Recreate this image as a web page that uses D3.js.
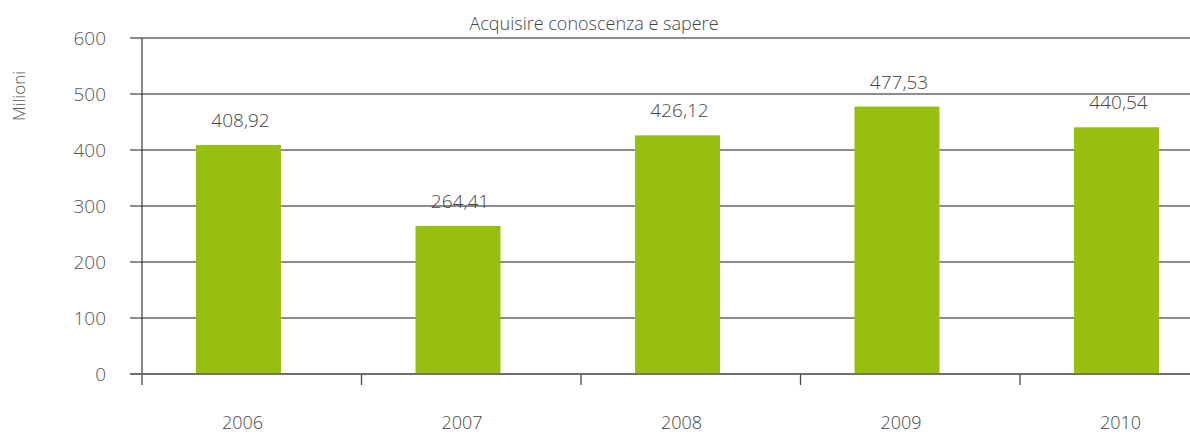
<!DOCTYPE html>
<html>
<head>
<meta charset="utf-8">
<script src="https://cdn.jsdelivr.net/npm/d3@7"></script>
<style>
  body { margin: 0; background: #fff; }
  text { font-family: "Open Sans", Lato, sans-serif; font-weight: 300; fill: #444; }
</style>
</head>
<body>
<div id="wrapper"></div>
<script>
// data
const years = ["2006", "2007", "2008", "2009", "2010"];
const values = [408.92, 264.41, 426.12, 477.53, 440.54];
const yTicks = [0, 100, 200, 300, 400, 500, 600];
const title = "Acquisire conoscenza e sapere";
const yTitle = "Milioni";

const dimension = { width: 1190, height: 436 };

const svg = d3.select("#wrapper").append("svg")
    .attr("width", dimension.width)
    .attr("height", dimension.height);

// scales (plot is cropped on the right like the original)
const xScaler = d3.scaleBand()
    .domain(years)
    .range([142, 1239.5]);

const yScaler = d3.scaleLinear()
    .domain([0, 600])
    .range([374, 38]);

// gridlines
svg.append("g")
    .selectAll("line")
    .data(yTicks)
    .join("line")
    .attr("x1", 130)
    .attr("x2", dimension.width)
    .attr("y1", d => yScaler(d))
    .attr("y2", d => yScaler(d))
    .attr("stroke", "#666")
    .attr("stroke-width", 1.3);

// y tick labels
svg.append("g")
    .selectAll("text")
    .data(yTicks)
    .join("text")
    .attr("x", 106)
    .attr("y", d => yScaler(d) + 7)
    .attr("text-anchor", "end")
    .style("font-size", "19px")
    .style("fill", "#555")
    .text(d => d);

// y axis line
svg.append("line")
    .attr("x1", 142).attr("x2", 142)
    .attr("y1", yScaler(600)).attr("y2", 385)
    .attr("stroke", "#444")
    .attr("stroke-width", 1.3);

// x ticks at band boundaries
svg.append("g")
    .selectAll("line")
    .data(years.slice(1))
    .join("line")
    .attr("x1", d => xScaler(d))
    .attr("x2", d => xScaler(d))
    .attr("y1", 374)
    .attr("y2", 385)
    .attr("stroke", "#444")
    .attr("stroke-width", 1.3);

// bars
const barOffset = 54;
const barWidth = 85;
svg.append("g")
    .selectAll("rect")
    .data(values)
    .join("rect")
    .attr("x", (d, i) => xScaler(years[i]) + barOffset)
    .attr("width", barWidth)
    .attr("y", d => yScaler(d))
    .attr("height", d => yScaler(0) - yScaler(d))
    .attr("fill", "#97bf0d");

// redraw baseline over bars
svg.append("line")
    .attr("x1", 130).attr("x2", dimension.width)
    .attr("y1", yScaler(0)).attr("y2", yScaler(0))
    .attr("stroke", "#666")
    .attr("stroke-width", 1.3);

// value labels
const fmt = d => d.toFixed(2).replace(".", ",");
svg.append("g")
    .selectAll("text")
    .data(values)
    .join("text")
    .attr("x", (d, i) => xScaler(years[i]) + barOffset + barWidth / 2 + 2)
    .attr("y", d => yScaler(d) - 18)
    .attr("text-anchor", "middle")
    .style("font-size", "19px")
    .text(fmt);

// year labels
svg.append("g")
    .selectAll("text")
    .data(years)
    .join("text")
    .attr("x", d => xScaler(d) + barOffset + barWidth / 2 + 4)
    .attr("y", 429)
    .attr("text-anchor", "middle")
    .style("font-size", "18px")
    .text(d => d);

// title
svg.append("text")
    .attr("x", 594)
    .attr("y", 30)
    .attr("text-anchor", "middle")
    .style("font-size", "18px")
    .text(title);

// y title
svg.append("text")
    .attr("transform", "translate(25,96) rotate(-90)")
    .attr("text-anchor", "middle")
    .style("font-size", "17px")
    .style("fill", "#555")
    .text(yTitle);
</script>
</body>
</html>
